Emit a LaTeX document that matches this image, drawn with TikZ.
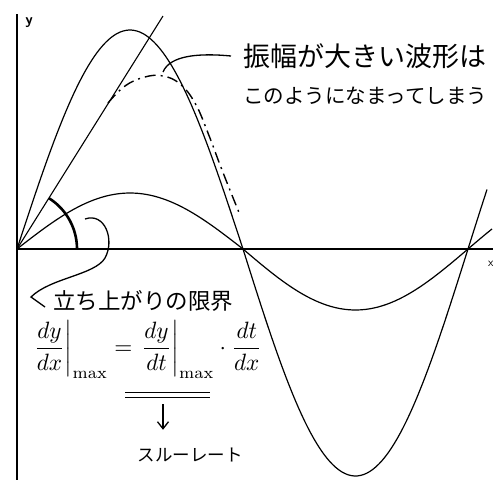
\documentclass[tikz,border=0pt]{standalone}
\usepackage{amsmath}
\usepackage{graphicx}
\usepackage{fontspec}
\newfontfamily\jpfont{Noto Sans CJK JP}
\usetikzlibrary{arrows.meta,calc}

\begin{document}
\begin{tikzpicture}[x=1pt,y=-1pt,
  curve/.style={line width=1.2pt},
  axis/.style={line width=1.5pt},
  slope/.style={line width=1.1pt},
  distort/.style={line width=1.4pt,dash pattern=on 11pt off 5pt on 2pt off 5pt},
  limitarc/.style={line width=2.6pt},
  leader/.style={line width=1.3pt},
  note/.style={font=\jpfont,inner sep=0pt,anchor=west}]
\useasboundingbox (0,0) rectangle (493,480);

\coordinate (O) at (17,249);
\coordinate (T) at (163,16);

% axes
\draw[axis] (17,14) -- (17,480);
\draw[axis] (O) -- (493,249);
\node[inner sep=0pt] (ylab) at (29,23) {\fontsize{15}{15}\selectfont\sffamily\bfseries y};
\node[anchor=west,inner sep=0pt] (xlab) at (488,264) {\fontsize{12}{12}\selectfont\sffamily x};

% large and small waves
\draw[curve] plot[domain=17:243,samples=80] (\x,{249-219*sin((\x-17)/226*180)});
\draw[curve] plot[domain=243:487,samples=80] (\x,{249+227*sin((\x-243)/225*180)});
\draw[curve] plot[domain=17:243,samples=60] (\x,{249-56*sin((\x-17)/226*180)});
\draw[curve] plot[domain=243:492,samples=60] (\x,{249+61*sin((\x-243)/225*180)});

% slew limit
\draw[slope] (O) -- (T);
\draw[limitarc] plot[domain=0:57.8,samples=30] ({17+60*cos(\x)},{249-60*sin(\x)});
\draw[distort] plot[smooth,tension=0.7] coordinates {(108,103) (125,86) (145,77) (163,76) (180,84) (195,103) (208,133) (222,170) (240,215)};

% notes
\node[note] (big) at (243,56) {\fontsize{27}{30}\selectfont 振幅が大きい波形は};
\node[note] (dull) at (243,96) {\fontsize{20.5}{24}\selectfont このようになまってしまう};
\node[note] (limit) at (53,301) {\fontsize{22.5}{26}\selectfont 立ち上がりの限界};
\node[anchor=north west,inner sep=0pt] (rate) at (31,320)
  {\resizebox*{231pt}{58pt}{$\left.\dfrac{dy}{dx}\right|_{\max}=\left.\dfrac{dy}{dt}\right|_{\max}\cdot\dfrac{dt}{dx}$}};
\node[note,anchor=center] (slew) at (190,455) {\fontsize{17.5}{20}\selectfont スルーレート};

\coordinate (bump) at (163,72);
\coordinate (arcpt) at (85,219);
\coordinate (under) at (163,404);

\draw[leader] (bump) .. controls (170,55) and (200,53) .. ([xshift=-12pt]big.west);
\draw[leader] (arcpt) .. controls (105,212) and (115,240) .. (105,258)
  .. controls (95,275) and (50,278) .. (31,297) -- ([xshift=-8pt,yshift=-6pt]limit.west);

\draw[line width=1pt] (125,392) -- (210,392);
\draw[line width=1pt] (125,397) -- (210,397);
\draw[leader,-{Straight Barb[length=7pt,width=11pt]},shorten >=18pt] (under) -- (under |- slew.north);

\end{tikzpicture}
\end{document}
